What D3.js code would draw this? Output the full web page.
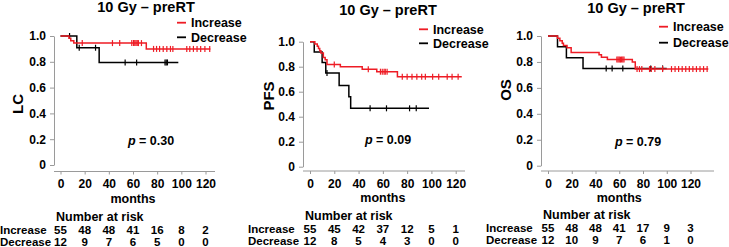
<!DOCTYPE html>
<html>
<head>
<meta charset="utf-8">
<script src="https://cdn.jsdelivr.net/npm/d3@7"></script>
<style>
  html, body { margin: 0; padding: 0; background: #fff; }
  svg { display: block; font-family: 'Liberation Sans', Arial, sans-serif; font-weight: bold; }
</style>
</head>
<body>
<div id="chart"></div>
<script>
// Kaplan-Meier panels, 10 Gy - preRT. Steps are [month, survival] after each event.
const TITLE = '10 Gy \u2013 preRT';
const GROUPS = ['Increase', 'Decrease'];
const X_TICKS = [0, 20, 40, 60, 80, 100, 120];
const Y_TICKS = [0, 0.2, 0.4, 0.6, 0.8, 1.0];

// LC
const lcIncSteps = [[0, 1], [7, 0.982], [8.5, 0.964], [11, 0.945], [71, 0.90]];
const lcIncCensor = [18, 43, 49, 59, 60.5, 61.5, 62.5, 63.5, 64.5, 67, 77, 79.5, 82, 85, 88, 91, 93, 104.5, 107, 110, 113, 116, 119.5, 123.5];
const lcIncEnd = 124;
const lcDecSteps = [[0, 1], [13.5, 0.909], [32, 0.795]];
const lcDecCensor = [7.5, 15.5, 29, 53.5, 63, 86.5, 87.5, 88.5];
const lcDecEnd = 97.5;
const lcRiskInc = [55, 48, 48, 41, 16, 8, 2];
const lcRiskDec = [12, 9, 7, 6, 5, 0, 0];

// PFS
const pfsIncSteps = [[0, 1], [4, 0.982], [6, 0.964], [7, 0.945], [8, 0.927], [9, 0.909], [11, 0.873], [12.5, 0.855], [14, 0.818], [25, 0.80], [43, 0.78], [55, 0.76], [72, 0.72]];
const pfsIncCensor = [20, 48, 58, 59.5, 61, 62, 63.5, 76, 80, 84, 88, 92, 95, 101, 106, 113, 117, 122];
const pfsIncEnd = 125;
const pfsDecSteps = [[0, 1], [3.5, 0.917], [10, 0.833], [13, 0.75], [24, 0.65], [32, 0.56], [33.5, 0.467]];
const pfsDecCensor = [14, 49.5, 63, 82, 87.5];
const pfsDecEnd = 98;
const pfsRiskInc = [55, 45, 42, 37, 12, 5, 1];
const pfsRiskDec = [12, 8, 5, 4, 3, 0, 0];

// OS
const osIncSteps = [[0, 1], [8, 0.982], [10, 0.964], [12, 0.945], [13, 0.927], [16, 0.909], [19.5, 0.873], [43, 0.855], [45, 0.836], [50, 0.818], [71, 0.80], [73.5, 0.745]];
const osIncCensor = [58, 59, 60, 61, 62, 63, 64, 75, 77, 79, 85.5, 87, 90, 96.5, 104, 107, 110, 113, 116, 119, 122, 125, 128, 131, 134];
const osIncEnd = 135;
const osDecSteps = [[0, 1], [8, 0.917], [15.5, 0.833], [29.5, 0.75]];
const osDecCensor = [49, 54, 63, 86.5, 96.5];
const osDecEnd = 100;
const osRiskInc = [55, 48, 48, 41, 17, 9, 3];
const osRiskDec = [12, 10, 9, 7, 6, 1, 0];

const P_VALUES = ['0.30', '0.09', '0.79'];
const Y_LABELS = ['LC', 'PFS', 'OS'];

const COLORS = { Increase: '#ee1c25', Decrease: '#000' };
const AXIS = '#9a9a9a';

// panel geometry (pixels)
const PANELS = [
  { left: 0,   yAxisX: 54,  y1: 36,   y0: 165,   x0: 60.5, x120: 205.5, xEnd: 215, axisY: 171.5,
    title: [146, 12], ylab: [18, 104], pval: [151, 145], leg: [177, 22.7, 37.3], tabY: [221, 234, 245.5],
    inc: [lcIncSteps, lcIncCensor, lcIncEnd], dec: [lcDecSteps, lcDecCensor, lcDecEnd], risk: [lcRiskInc, lcRiskDec] },
  { left: 248, yAxisX: 303, y1: 41.7, y0: 166.7, x0: 310,  x120: 455.7, xEnd: 465, axisY: 171,
    title: [388, 15], ylab: [269, 96], pval: [388, 143.5], leg: [419, 29.3, 43.3], tabY: [220, 233, 244.5],
    inc: [pfsIncSteps, pfsIncCensor, pfsIncEnd], dec: [pfsDecSteps, pfsDecCensor, pfsDecEnd], risk: [pfsRiskInc, pfsRiskDec] },
  { left: 486, yAxisX: 541, y1: 36,   y0: 165.7, x0: 548,  x120: 690.5, xEnd: 714, axisY: 171,
    title: [636, 12.5], ylab: [506, 90], pval: [638, 145.5], leg: [659, 26.7, 42.7], tabY: [218.5, 232, 243.5],
    inc: [osIncSteps, osIncCensor, osIncEnd], dec: [osDecSteps, osDecCensor, osDecEnd], risk: [osRiskInc, osRiskDec] },
];

const W = 729, H = 247;
const svg = d3.select('#chart').append('svg').attr('width', W).attr('height', H);

function survAt(steps, t) {
  let s = steps[0][1];
  steps.forEach(d => { if (d[0] <= t) s = d[1]; });
  return s;
}

PANELS.forEach((p, i) => {
  const g = svg.append('g');
  const x = d3.scaleLinear().domain([0, 120]).range([p.x0, p.x120]);
  const y = d3.scaleLinear().domain([0, 1]).range([p.y0, p.y1]);

  // title
  g.append('text').attr('x', p.title[0]).attr('y', p.title[1]).attr('text-anchor', 'middle')
    .style('font-size', '14.5px').text(TITLE);

  // y axis
  const ya = g.append('g').attr('transform', `translate(${p.yAxisX},0)`)
    .call(d3.axisLeft(y).tickValues(Y_TICKS).tickSizeInner(4).tickSizeOuter(0).tickPadding(4)
      .tickFormat(d => d === 0 ? '0' : d3.format('.1f')(d)));
  ya.selectAll('path,line').attr('stroke', AXIS);
  ya.selectAll('text').style('font-size', '12px').style('font-family', null).attr('fill', '#000');

  // x axis
  const xa = g.append('g').attr('transform', `translate(0,${p.axisY})`)
    .call(d3.axisBottom(x).tickValues(X_TICKS).tickSizeInner(3).tickSizeOuter(0).tickPadding(5));
  xa.select('.domain').remove();
  xa.append('line').attr('x1', p.yAxisX).attr('x2', p.xEnd).attr('stroke', AXIS);
  xa.selectAll('line').attr('stroke', AXIS);
  xa.selectAll('text').style('font-size', '12px').style('font-family', null).attr('fill', '#000');

  g.append('text').attr('x', x(60)).attr('y', p.axisY + 31).attr('text-anchor', 'middle')
    .style('font-size', '12.5px').text('months');

  // y label
  g.append('text').attr('transform', `translate(${p.ylab[0] + 5},${p.ylab[1]}) rotate(-90)`)
    .attr('text-anchor', 'middle').style('font-size', '15px').text(Y_LABELS[i]);

  // curves: Decrease first, Increase on top
  const line = d3.line().x(d => x(d[0])).y(d => y(d[1])).curve(d3.curveStepAfter);
  [['Decrease', p.dec], ['Increase', p.inc]].forEach(([name, [steps, cens, end]]) => {
    const pts = steps.concat([[end, steps[steps.length - 1][1]]]);
    g.append('path').datum(pts).attr('d', line).attr('fill', 'none')
      .attr('stroke', COLORS[name]).attr('stroke-width', 1.5);
    g.selectAll(null).data(cens).enter().append('line')
      .attr('x1', d => x(d)).attr('x2', d => x(d))
      .attr('y1', d => y(survAt(steps, d)) - 3).attr('y2', d => y(survAt(steps, d)) + 3)
      .attr('stroke', COLORS[name]).attr('stroke-width', 1.2);
  });

  // p value
  const pt = g.append('text').attr('x', p.pval[0]).attr('y', p.pval[1]).attr('text-anchor', 'middle')
    .style('font-size', '12.5px');
  pt.append('tspan').style('font-style', 'italic').text('p');
  pt.append('tspan').text(' = ' + P_VALUES[i]);

  // legend
  GROUPS.forEach((name, k) => {
    const ly = p.leg[1 + k];
    g.append('line').attr('x1', p.leg[0]).attr('x2', p.leg[0] + 9).attr('y1', ly).attr('y2', ly)
      .attr('stroke', COLORS[name]).attr('stroke-width', 1.8);
    g.append('text').attr('x', p.leg[0] + 14).attr('y', ly + 4.5)
      .style('font-size', '12.5px').text(name);
  });

  // number at risk
  g.append('text').attr('x', p.yAxisX + 2).attr('y', p.tabY[0]).style('font-size', '12.5px').text('Number at risk');
  GROUPS.forEach((name, k) => {
    const ry = p.tabY[1 + k];
    g.append('text').attr('x', p.left).attr('y', ry).style('font-size', '11.5px').text(name);
    g.selectAll(null).data(p.risk[k]).enter().append('text')
      .attr('x', (d, j) => x(X_TICKS[j])).attr('y', ry).attr('text-anchor', 'middle')
      .style('font-size', '11.5px').text(d => d);
  });
});
</script>
</body>
</html>
